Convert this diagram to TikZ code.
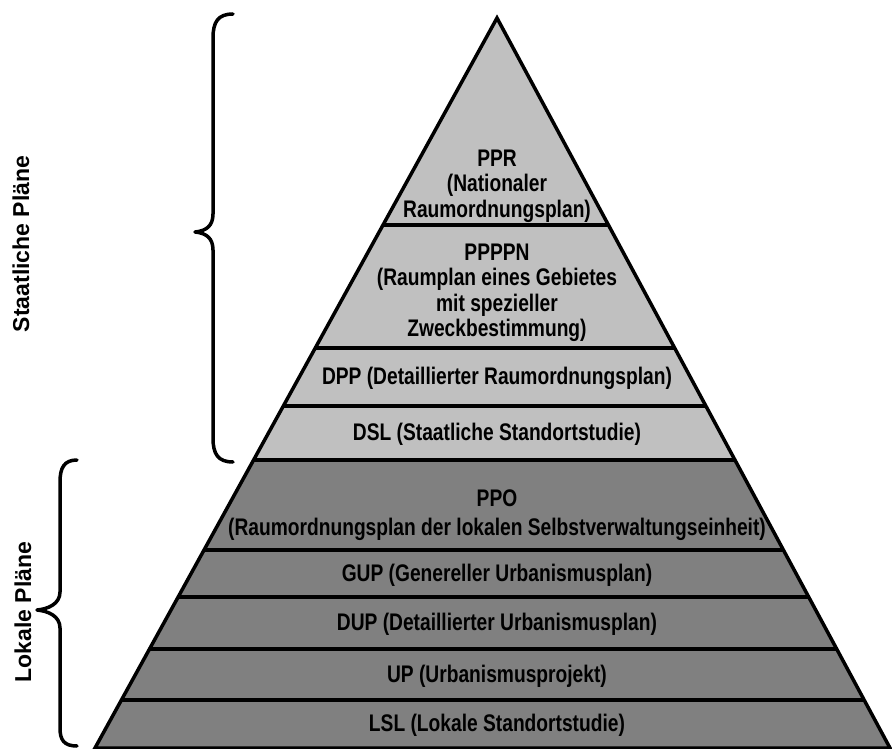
\documentclass[tikz,border=0pt]{standalone}
\usepackage{fontspec}
\setmainfont{Liberation Sans}
\newfontfamily\narrowfont{Liberation Sans}[FakeStretch=0.8]
\newfontfamily\sidefont{Liberation Sans}
\begin{document}
\begin{tikzpicture}[x=1pt,y=-1pt,
  band/.style={align=center,inner sep=0pt,
    font=\narrowfont\bfseries\fontsize{24}{25.5}\selectfont},
  sidelabel/.style={rotate=90,inner sep=0pt,
    font=\sidefont\bfseries\fontsize{23}{26}\selectfont},
  bracket/.style={line width=3.5pt,line cap=round,line join=round},
  rule/.style={line width=3.5pt},
  outline/.style={line width=3.5pt,line join=miter}]
\definecolor{statefill}{RGB}{192,192,192}
\definecolor{localfill}{RGB}{128,128,128}
\useasboundingbox (0,0) rectangle (892,749);

% corners of the pyramid
\coordinate (apex) at (497,18);
\coordinate (bl) at (95,748);
\coordinate (br) at (890,748);

% coloured bands, clipped to the triangle
\begin{scope}
  \clip (apex) -- (bl) -- (br) -- cycle;
  \fill[statefill] (0,0) rectangle (892,460);
  \fill[localfill] (0,460) rectangle (892,749);
  \foreach \y in {225,348,406,460,550,597,649,700}
    \draw[rule] (0,\y) -- (892,\y);
\end{scope}
\draw[outline] (apex) -- (bl) -- (br) -- cycle;

% level labels
\node[band] (ppr) at (497,186) {PPR\\(Nationaler\\Raumordnungsplan)};
\node[band] (ppppn) at (497,293) {PPPPN\\(Raumplan eines Gebietes\\mit spezieller\\Zweckbestimmung)};
\node[band] (dpp) at (497,378) {DPP (Detaillierter Raumordnungsplan)};
\node[band] (dsl) at (497,434) {DSL (Staatliche Standortstudie)};
\node[band] (ppo) at (497,515) {PPO\\[4pt](Raumordnungsplan der lokalen Selbstverwaltungseinheit)};
\node[band] (gup) at (497,575) {GUP (Genereller Urbanismusplan)};
\node[band] (dup) at (497,624) {DUP (Detaillierter Urbanismusplan)};
\node[band] (up) at (497,676) {UP (Urbanismusprojekt)};
\node[band] (lsl) at (497,725) {LSL (Lokale Standortstudie)};

% braces grouping the levels
\draw[bracket] (233,14) .. controls (218,14) and (213,22) .. (213,38)
  -- (213,214) .. controls (213,226) and (206,231) .. (195,232)
  .. controls (206,233) and (213,238) .. (213,250)
  -- (213,438) .. controls (213,454) and (218,462) .. (233,462);
\draw[bracket] (77,460) .. controls (64,460) and (60,468) .. (60,482)
  -- (60,592) .. controls (60,604) and (48,609) .. (37,610)
  .. controls (48,611) and (60,616) .. (60,628)
  -- (60,728) .. controls (60,740) and (64,746) .. (77,746);

\node[sidelabel] (state) at (21,244) {Staatliche Pläne};
\node[sidelabel] (local) at (23,612) {Lokale Pläne};
\end{tikzpicture}
\end{document}
